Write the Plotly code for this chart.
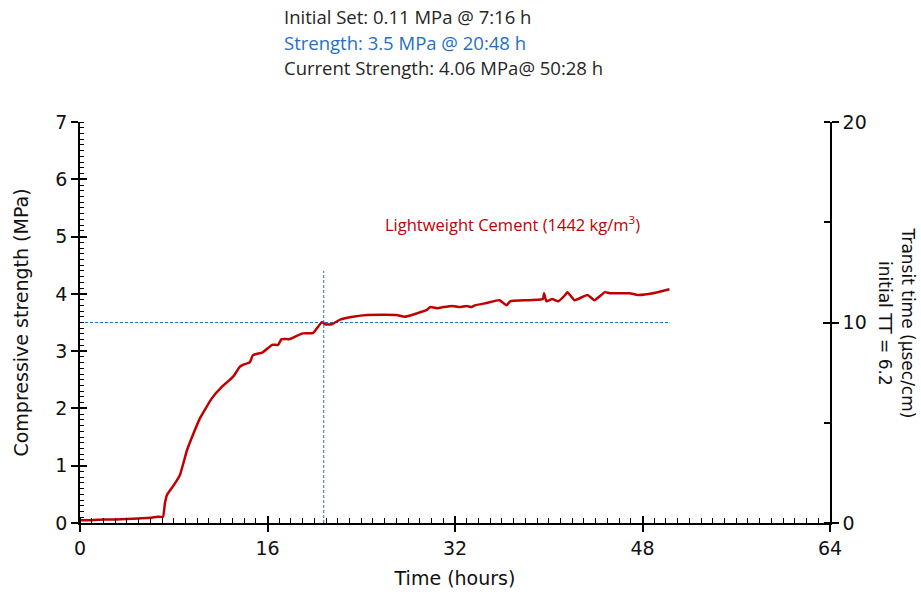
import plotly.graph_objects as go

# ---- data ----
time_h = [0, 1, 2, 3, 4, 5, 6, 6.6, 7.08, 7.25, 7.42, 8.0, 8.53, 9.13, 9.64, 10.24, 11.26, 12.12,
          13.05, 13.65, 13.9, 14.5, 14.76, 15.6, 16.4, 16.9, 17.2, 17.9, 19.0, 19.9, 20.65,
          20.9, 21.5, 22.2, 23.3, 24.5, 27.0, 27.7, 28.75, 29.6, 29.9, 30.5, 31.0, 31.8,
          32.4, 33.0, 33.4, 33.7, 34.7, 35.8, 36.4, 36.7, 39.5, 39.6, 39.8, 40.3, 40.8,
          41.4, 41.6, 42.2, 43.3, 43.9, 44.8, 45.2, 46.9, 47.6, 48.9, 49.7, 50.3]
strength = [0.05, 0.05, 0.06, 0.06, 0.07, 0.08, 0.09, 0.11, 0.11, 0.35, 0.49, 0.66, 0.84, 1.27,
            1.54, 1.83, 2.18, 2.38, 2.55, 2.73, 2.76, 2.81, 2.93, 2.98, 3.11, 3.11, 3.21, 3.21,
            3.31, 3.32, 3.51, 3.47, 3.47, 3.55, 3.6, 3.63, 3.63, 3.6, 3.66, 3.72, 3.77, 3.75,
            3.77, 3.79, 3.77, 3.79, 3.77, 3.8, 3.84, 3.89, 3.8, 3.87, 3.91, 4.01, 3.87, 3.91,
            3.87, 3.98, 4.03, 3.89, 3.98, 3.89, 4.03, 4.01, 4.01, 3.98, 4.01, 4.05, 4.08]

ref_strength = 3.5
ref_time = 20.8
ref_h_line_x = [0, 50.3]
ref_v_line_y = [0, 4.4]

header_lines = ["Initial Set: 0.11 MPa @ 7:16 h",
                "Strength: 3.5 MPa @ 20:48 h",
                "Current Strength: 4.06 MPa@ 50:28 h"]
header_colors = ["#262626", "#1F6FC5", "#262626"]
series_label = "Lightweight Cement (1442 kg/m<sup>3</sup>)"

RED = "#C00000"
BLUE = "#1F6FC8"
AXFONT = dict(family="DejaVu Sans, Verdana", size=19, color="#111111")
TXTFONT = "Open Sans, Lato, Calibri"

fig = go.Figure()

fig.add_trace(go.Scatter(x=ref_h_line_x, y=[ref_strength, ref_strength], mode="lines",
                         line=dict(color=BLUE, width=1, dash="3px,2px"), hoverinfo="skip"))
fig.add_trace(go.Scatter(x=[ref_time, ref_time], y=ref_v_line_y, mode="lines",
                         line=dict(color=BLUE, width=1, dash="3px,2px"), hoverinfo="skip"))
fig.add_trace(go.Scatter(x=time_h, y=strength, mode="lines",
                         line=dict(color=RED, width=2.5, shape="spline", smoothing=0.4)))
# invisible trace for the secondary (transit time) axis
fig.add_trace(go.Scatter(x=[0], y=[0], yaxis="y2", mode="markers",
                         marker=dict(opacity=0), hoverinfo="skip"))
# invisible traces for inner major tick overlay axes
fig.add_trace(go.Scatter(x=[0], y=[0], xaxis="x2", yaxis="y3", mode="markers",
                         marker=dict(opacity=0), hoverinfo="skip"))
fig.add_trace(go.Scatter(x=[0], y=[0], yaxis="y4", mode="markers",
                         marker=dict(opacity=0), hoverinfo="skip"))

common = dict(showgrid=False, zeroline=False, linecolor="black", linewidth=1.5,
              tickcolor="black", tickwidth=1.5, tickfont=AXFONT, automargin=False)
inner = dict(showticklabels=False, showline=False, showgrid=False, zeroline=False,
             tickcolor="black", tickwidth=1.5, ticks="inside", ticklen=7, automargin=False,
             tickmode="linear", tick0=0)

fig.update_layout(
    width=921, height=594,
    margin=dict(l=80, r=91, t=122, b=71, autoexpand=False),
    paper_bgcolor="white", plot_bgcolor="white",
    showlegend=False,
    xaxis=dict(range=[0, 64], tickmode="linear", tick0=0, dtick=16, ticks="outside",
               ticklen=7, showline=True,
               minor=dict(tickmode="linear", tick0=0, dtick=1, ticks="inside", ticklen=5,
                          tickcolor="black", tickwidth=1),
               title=dict(text="Time (hours)", font=AXFONT, standoff=14), **common),
    yaxis=dict(range=[0, 7], tickmode="linear", tick0=0, dtick=1, ticks="outside",
               ticklen=7, showline=True,
               minor=dict(tickmode="linear", tick0=0, dtick=0.1, ticks="inside", ticklen=4,
                          tickcolor="black", tickwidth=1),
               title=dict(text="Compressive strength (MPa)", font=AXFONT, standoff=22), **common),
    yaxis2=dict(range=[0, 20], overlaying="y", side="right", tickmode="linear", tick0=0,
                dtick=10, ticks="outside", ticklen=7, showline=True,
                minor=dict(tickmode="linear", tick0=0, dtick=5, ticks="inside", ticklen=6,
                           tickcolor="black", tickwidth=1.5),
                **common),
    xaxis2=dict(range=[0, 64], overlaying="x", anchor="y3", dtick=16, side="bottom", **inner),
    yaxis3=dict(range=[0, 7], overlaying="y", anchor="x2", dtick=1, side="left", **inner),
    yaxis4=dict(range=[0, 20], overlaying="y", side="right", dtick=10, **inner),
)

for i, (t, c) in enumerate(zip(header_lines, header_colors)):
    fig.add_annotation(text=t, xref="paper", yref="paper", x=(283 - 80) / 750,
                       y=(523 - 16 - i * 26) / 401,
                       xanchor="left", yanchor="middle", showarrow=False, borderpad=0,
                       font=dict(family=TXTFONT, size=18.5, color=c))

fig.add_annotation(text=series_label, xref="x", yref="y", x=36.9, y=5.22,
                   showarrow=False, font=dict(family=TXTFONT, size=16.5, color=RED))

fig.add_annotation(text="Transit time (µsec/cm)<br>initial TT = 6.2", xref="paper",
                   yref="paper", x=(897 - 80) / 750, y=0.5, xanchor="center", yanchor="middle",
                   textangle=90, showarrow=False,
                   font=dict(family="DejaVu Sans, Verdana", size=17, color="#111111"))

fig.write_html("out.html", config={"displayModeBar": False},
               post_script="document.body.style.margin='0';document.body.style.padding='0';")
